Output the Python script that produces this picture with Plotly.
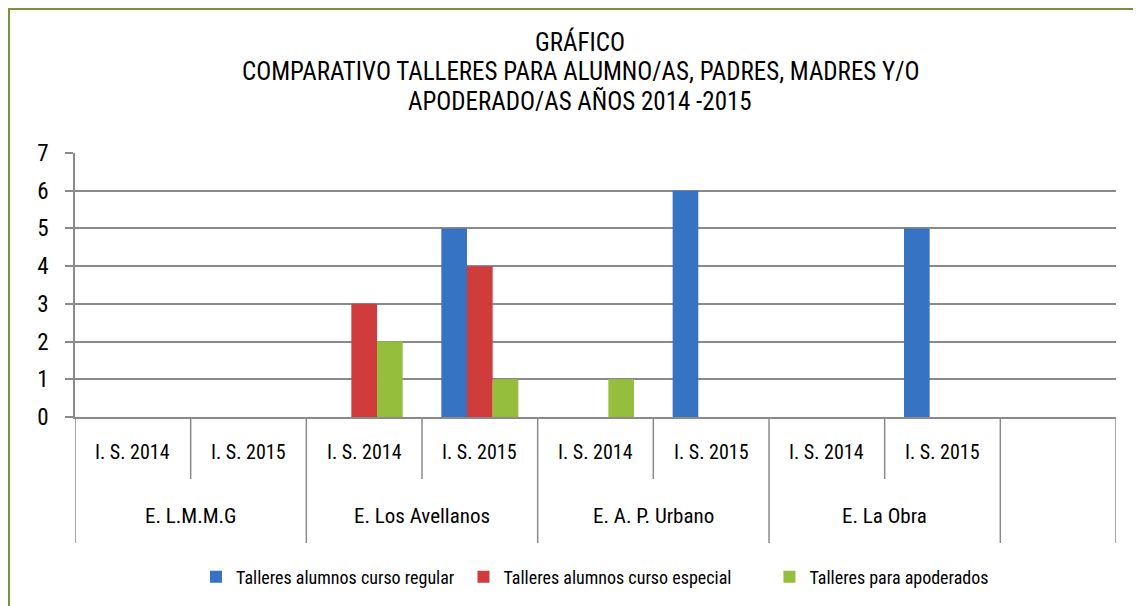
import plotly.graph_objects as go

# ---------------- data ----------------
schools = ["E. L.M.M.G", "E. Los Avellanos", "E. A. P. Urbano", "E. La Obra"]
periods = ["I. S. 2014", "I. S. 2015"]
series_names = ["Talleres alumnos curso regular",
                "Talleres alumnos curso especial",
                "Talleres para apoderados"]
regular = [0, 0, 0, 5, 0, 6, 0, 5]
especial = [0, 0, 3, 4, 0, 0, 0, 0]
apoderados = [0, 0, 2, 1, 1, 0, 0, 0]
y_ticks = [0, 1, 2, 3, 4, 5, 6, 7]
title_lines = ["GRÁFICO",
               "COMPARATIVO TALLERES PARA ALUMNO/AS, PADRES, MADRES Y/O",
               "APODERADO/AS AÑOS 2014 -2015"]

# category keys (one empty slot at the end, as in the original sheet)
cats = [f"{s}|{p}" for s in schools for p in periods] + [" "]

colors = ["#3673C2", "#D03B3B", "#95BE3D"]

FONT = "Roboto Condensed, Liberation Sans Narrow, Arial Narrow, DejaVu Sans Condensed, sans-serif"

fig = go.Figure()
pads = ["\u00a0" * 1, "\u00a0" * 8, ""]
for name, vals, c, pad in zip(series_names, [regular, especial, apoderados], colors, pads):
    fig.add_trace(go.Bar(
        x=cats[:len(vals)], y=vals, name=name + pad,
        marker=dict(color=c, line=dict(width=0)),
    ))

W, H = 1141, 606
OFF = 8  # page body margin offset
ml, mr, mt = 75 - OFF, 33, 153 - OFF
plot_bottom = 417 - OFF
mb = H - plot_bottom
ph = H - mt - mb
pw = W - ml - mr


def py(pix):
    """screen pixel row -> paper y"""
    return (plot_bottom - (pix - OFF)) / ph


def px(pix):
    return ((pix - OFF) - ml) / pw


shapes = []
# category boundaries below the axis
n = len(cats)
for k in range(n + 1):
    xb = k - 0.5
    is_group = (k % 2 == 0) or k == n
    depth = 126 if is_group else 62
    shapes.append(dict(type="line", xref="x", yref="paper",
                       x0=xb, x1=xb, y0=0, y1=-depth / ph,
                       line=dict(color="#8a8a8a", width=1.5)))
# green frame (left and top)
shapes.append(dict(type="line", xref="paper", yref="paper",
                   x0=px(9), x1=px(9), y0=py(8), y1=py(H + 20),
                   line=dict(color="#77933C", width=2)))
shapes.append(dict(type="line", xref="paper", yref="paper",
                   x0=px(8), x1=px(W + 20), y0=py(9), y1=py(9),
                   line=dict(color="#77933C", width=2)))

annotations = []
for i, c in enumerate(cats[:-1]):
    s, p = c.split("|")
    annotations.append(dict(x=c, y=py(452), xref="x", yref="paper", text=p,
                            showarrow=False, font=dict(size=20, color="#000"),
                            xanchor="center", yanchor="middle"))
for j, s in enumerate(schools):
    annotations.append(dict(x=2 * j + 0.5, y=py(516), xref="x", yref="paper", text=s,
                            showarrow=False, font=dict(size=21, color="#000"),
                            xanchor="center", yanchor="middle"))
for yy, t in zip([42, 71.5, 101], title_lines):
    annotations.append(dict(x=px(580), y=py(yy), xref="paper", yref="paper", text=t,
                            showarrow=False, font=dict(size=25, color="#000"),
                            xanchor="center", yanchor="middle"))

fig.update_layout(
    width=W, height=H,
    margin=dict(l=ml, r=mr, t=mt, b=mb),
    paper_bgcolor="white", plot_bgcolor="white",
    font=dict(family=FONT, color="#000"),
    barmode="group", bargap=0.334, bargroupgap=0,
    showlegend=True,
    legend=dict(orientation="h", x=px(595), xanchor="center",
                y=py(577), yanchor="middle",
                font=dict(size=18), itemwidth=30,
                bgcolor="rgba(0,0,0,0)"),
    xaxis=dict(type="category", categoryorder="array", categoryarray=cats,
               range=[-0.5, n - 0.5], showticklabels=False, showgrid=False,
               showline=True, linecolor="#8a8a8a", linewidth=1.5, ticks="",
               zeroline=False, fixedrange=True),
    yaxis=dict(range=[0, 7], tickvals=y_ticks, showgrid=True, gridcolor="#8a8a8a",
               gridwidth=1.5, showline=True, linecolor="#8a8a8a", linewidth=1.5,
               ticks="outside", ticklen=8, tickcolor="#8a8a8a", tickwidth=1.5,
               tickfont=dict(size=23), ticklabelstandoff=12,
               zeroline=False),
    shapes=shapes, annotations=annotations,
)

fig.write_html("out.html")
